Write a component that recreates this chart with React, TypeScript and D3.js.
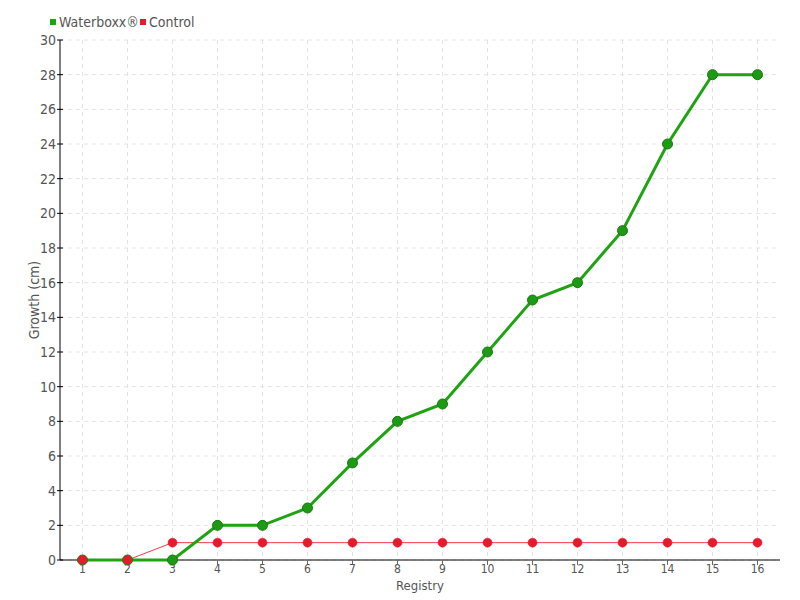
import React from "react";
import * as d3 from "d3";

const categories = ["1","2","3","4","5","6","7","8","9","10","11","12","13","14","15","16"];
const waterboxx = [0,0,0,2,2,3,5.6,8,9,12,15,16,19,24,28,28];
const control = [0,0,1,1,1,1,1,1,1,1,1,1,1,1,1,1];
const yTicks = d3.range(0, 31, 2);

const W = 800, H = 600;
const left = 60, right = 780, top = 40, bottom = 560;
const font = "'DejaVu Sans Condensed', 'DejaVu Sans', sans-serif";

export default function App() {
  const x = d3.scalePoint<string>().domain(categories).range([left, right]).padding(0.5);
  const y = d3.scaleLinear().domain([0, 30]).range([bottom, top]);
  const line = d3.line<number>().x((_, i) => x(categories[i])!).y((d) => y(d));
  return (
    <svg width={W} height={H} style={{ position: "absolute", left: 0, top: 0 }} fontFamily={font}>
      {yTicks.map((t) => (
        <line key={"gy" + t} x1={left} x2={right} y1={y(t)} y2={y(t)} stroke="#e3e3e3" strokeDasharray="4,4" />
      ))}
      {categories.map((c) => (
        <line key={"gx" + c} x1={x(c)} x2={x(c)} y1={top} y2={bottom} stroke="#e3e3e3" strokeDasharray="4,4" />
      ))}
      <line x1={left} x2={left} y1={top} y2={bottom} stroke="#000" />
      <line x1={left} x2={right} y1={bottom} y2={bottom} stroke="#000" />
      {yTicks.map((t) => (
        <g key={"ty" + t}>
          <line x1={left - 3} x2={left + 3} y1={y(t)} y2={y(t)} stroke="#000" />
          <text x={left - 4} y={y(t)} dy="0.35em" textAnchor="end" fontSize={14} fill="#555">{t}</text>
        </g>
      ))}
      {categories.map((c) => (
        <g key={"tx" + c}>
          <line x1={x(c)} x2={x(c)} y1={bottom} y2={bottom + 5} stroke="#666" />
          <text x={x(c)} y={bottom + 13} textAnchor="middle" fontSize={12} fill="#555">{c}</text>
        </g>
      ))}
      <text x={(left + right) / 2} y={590} textAnchor="middle" fontSize={13} fill="#555">Registry</text>
      <text transform={`translate(39,${(top + bottom) / 2}) rotate(-90)`} textAnchor="middle" fontSize={14} fill="#555">Growth (cm)</text>

      <path d={line(control)!} fill="none" stroke="#f03a4a" strokeWidth={1} />
      {control.map((v, i) => (
        <circle key={"c" + i} cx={x(categories[i])} cy={y(v)} r={4.5} fill="#e8192c" stroke="#d81626" strokeWidth={0.5} />
      ))}
      <path d={line(waterboxx)!} fill="none" stroke="#1fa312" strokeWidth={3} />
      {waterboxx.map((v, i) => (
        <circle key={"w" + i} cx={x(categories[i])} cy={y(v)} r={5} fill="#1d9a14" stroke="#187a11" strokeWidth={1} />
      ))}
      {control.slice(0, 2).map((v, i) => (
        <circle key={"c2" + i} cx={x(categories[i])} cy={y(v)} r={4.5} fill="#e8192c" />
      ))}

      <rect x={50} y={19} width={6} height={6} fill="#1fa312" />
      <text x={59} y={27} fontSize={14} fill="#555">Waterboxx®</text>
      <rect x={140} y={19} width={6} height={6} fill="#e8192c" />
      <text x={149} y={27} fontSize={14} fill="#555">Control</text>
    </svg>
  );
}
